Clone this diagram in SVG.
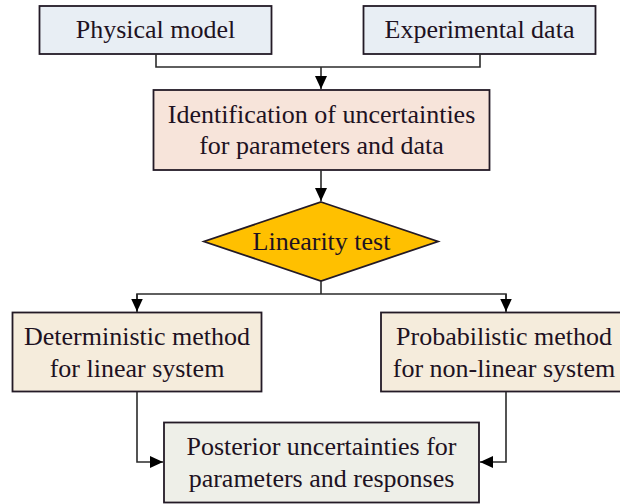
<svg xmlns="http://www.w3.org/2000/svg" width="620" height="504" viewBox="0 0 620 504">
  <defs>
    <marker id="arr" markerUnits="userSpaceOnUse" markerWidth="14" markerHeight="13" refX="13" refY="6" orient="auto">
      <path d="M0,0 L13,6 L0,12 z" fill="#000"/>
    </marker>
    <style>
      .box { stroke: #231a26; stroke-width: 1.8; }
      .t { font-family: "Liberation Serif", "Times New Roman", serif; font-size: 26px; fill: #1e1222; text-anchor: middle; }
      .c { fill: none; stroke: #2b2b2b; stroke-width: 1.6; }
    </style>
  </defs>
  <rect width="620" height="504" fill="#fff"/>

  <g id="physical-model">
    <rect class="box" x="39.5" y="6" width="232" height="48" fill="#e8eef4"/>
    <text class="t" x="155.5" y="38" fill="#111">Physical model</text>
  </g>
  <g id="experimental-data">
    <rect class="box" x="363.5" y="6" width="232" height="48" fill="#e8eef4"/>
    <text class="t" x="479.5" y="38">Experimental data</text>
  </g>
  <g id="identification">
    <rect class="box" x="153.5" y="90" width="336" height="80" fill="#f7e4da"/>
    <text class="t" x="321.5" y="123">Identification of uncertainties</text>
    <text class="t" x="321.5" y="154">for parameters and data</text>
  </g>
  <g id="linearity-test">
    <polygon class="box" points="321,202 438,241.5 321,281 204,241.5" fill="#ffc000"/>
    <text class="t" x="321.5" y="250">Linearity test</text>
  </g>
  <g id="deterministic">
    <rect class="box" x="12.5" y="312.5" width="249" height="79" fill="#f5ecdc"/>
    <text class="t" x="137" y="345">Deterministic method</text>
    <text class="t" x="137" y="376.5">for linear system</text>
  </g>
  <g id="probabilistic">
    <rect class="box" x="381" y="312.5" width="246" height="79" fill="#f5ecdc"/>
    <text class="t" x="504" y="345">Probabilistic method</text>
    <text class="t" x="504" y="376.5">for non-linear system</text>
  </g>
  <g id="posterior">
    <rect class="box" x="164" y="422.5" width="315" height="80" fill="#eeefe8"/>
    <text class="t" x="321.5" y="455">Posterior uncertainties for</text>
    <text class="t" x="321.5" y="486.5">parameters and responses</text>
  </g>

  <g id="connectors">
    <path class="c" d="M156,54 V67 H480 V54"/>
    <path class="c" d="M321,67 V89" marker-end="url(#arr)"/>
    <path class="c" d="M321,170 V201" marker-end="url(#arr)"/>
    <path class="c" d="M321,281 V294"/>
    <path class="c" d="M137,312 V294 H506 V312"/>
    <path class="c" d="M137,294 V311.5" marker-end="url(#arr)"/>
    <path class="c" d="M506,294 V311.5" marker-end="url(#arr)"/>
    <path class="c" d="M137,392 V462 H163" marker-end="url(#arr)"/>
    <path class="c" d="M506,392 V462 H480" marker-end="url(#arr)"/>
  </g>
</svg>
